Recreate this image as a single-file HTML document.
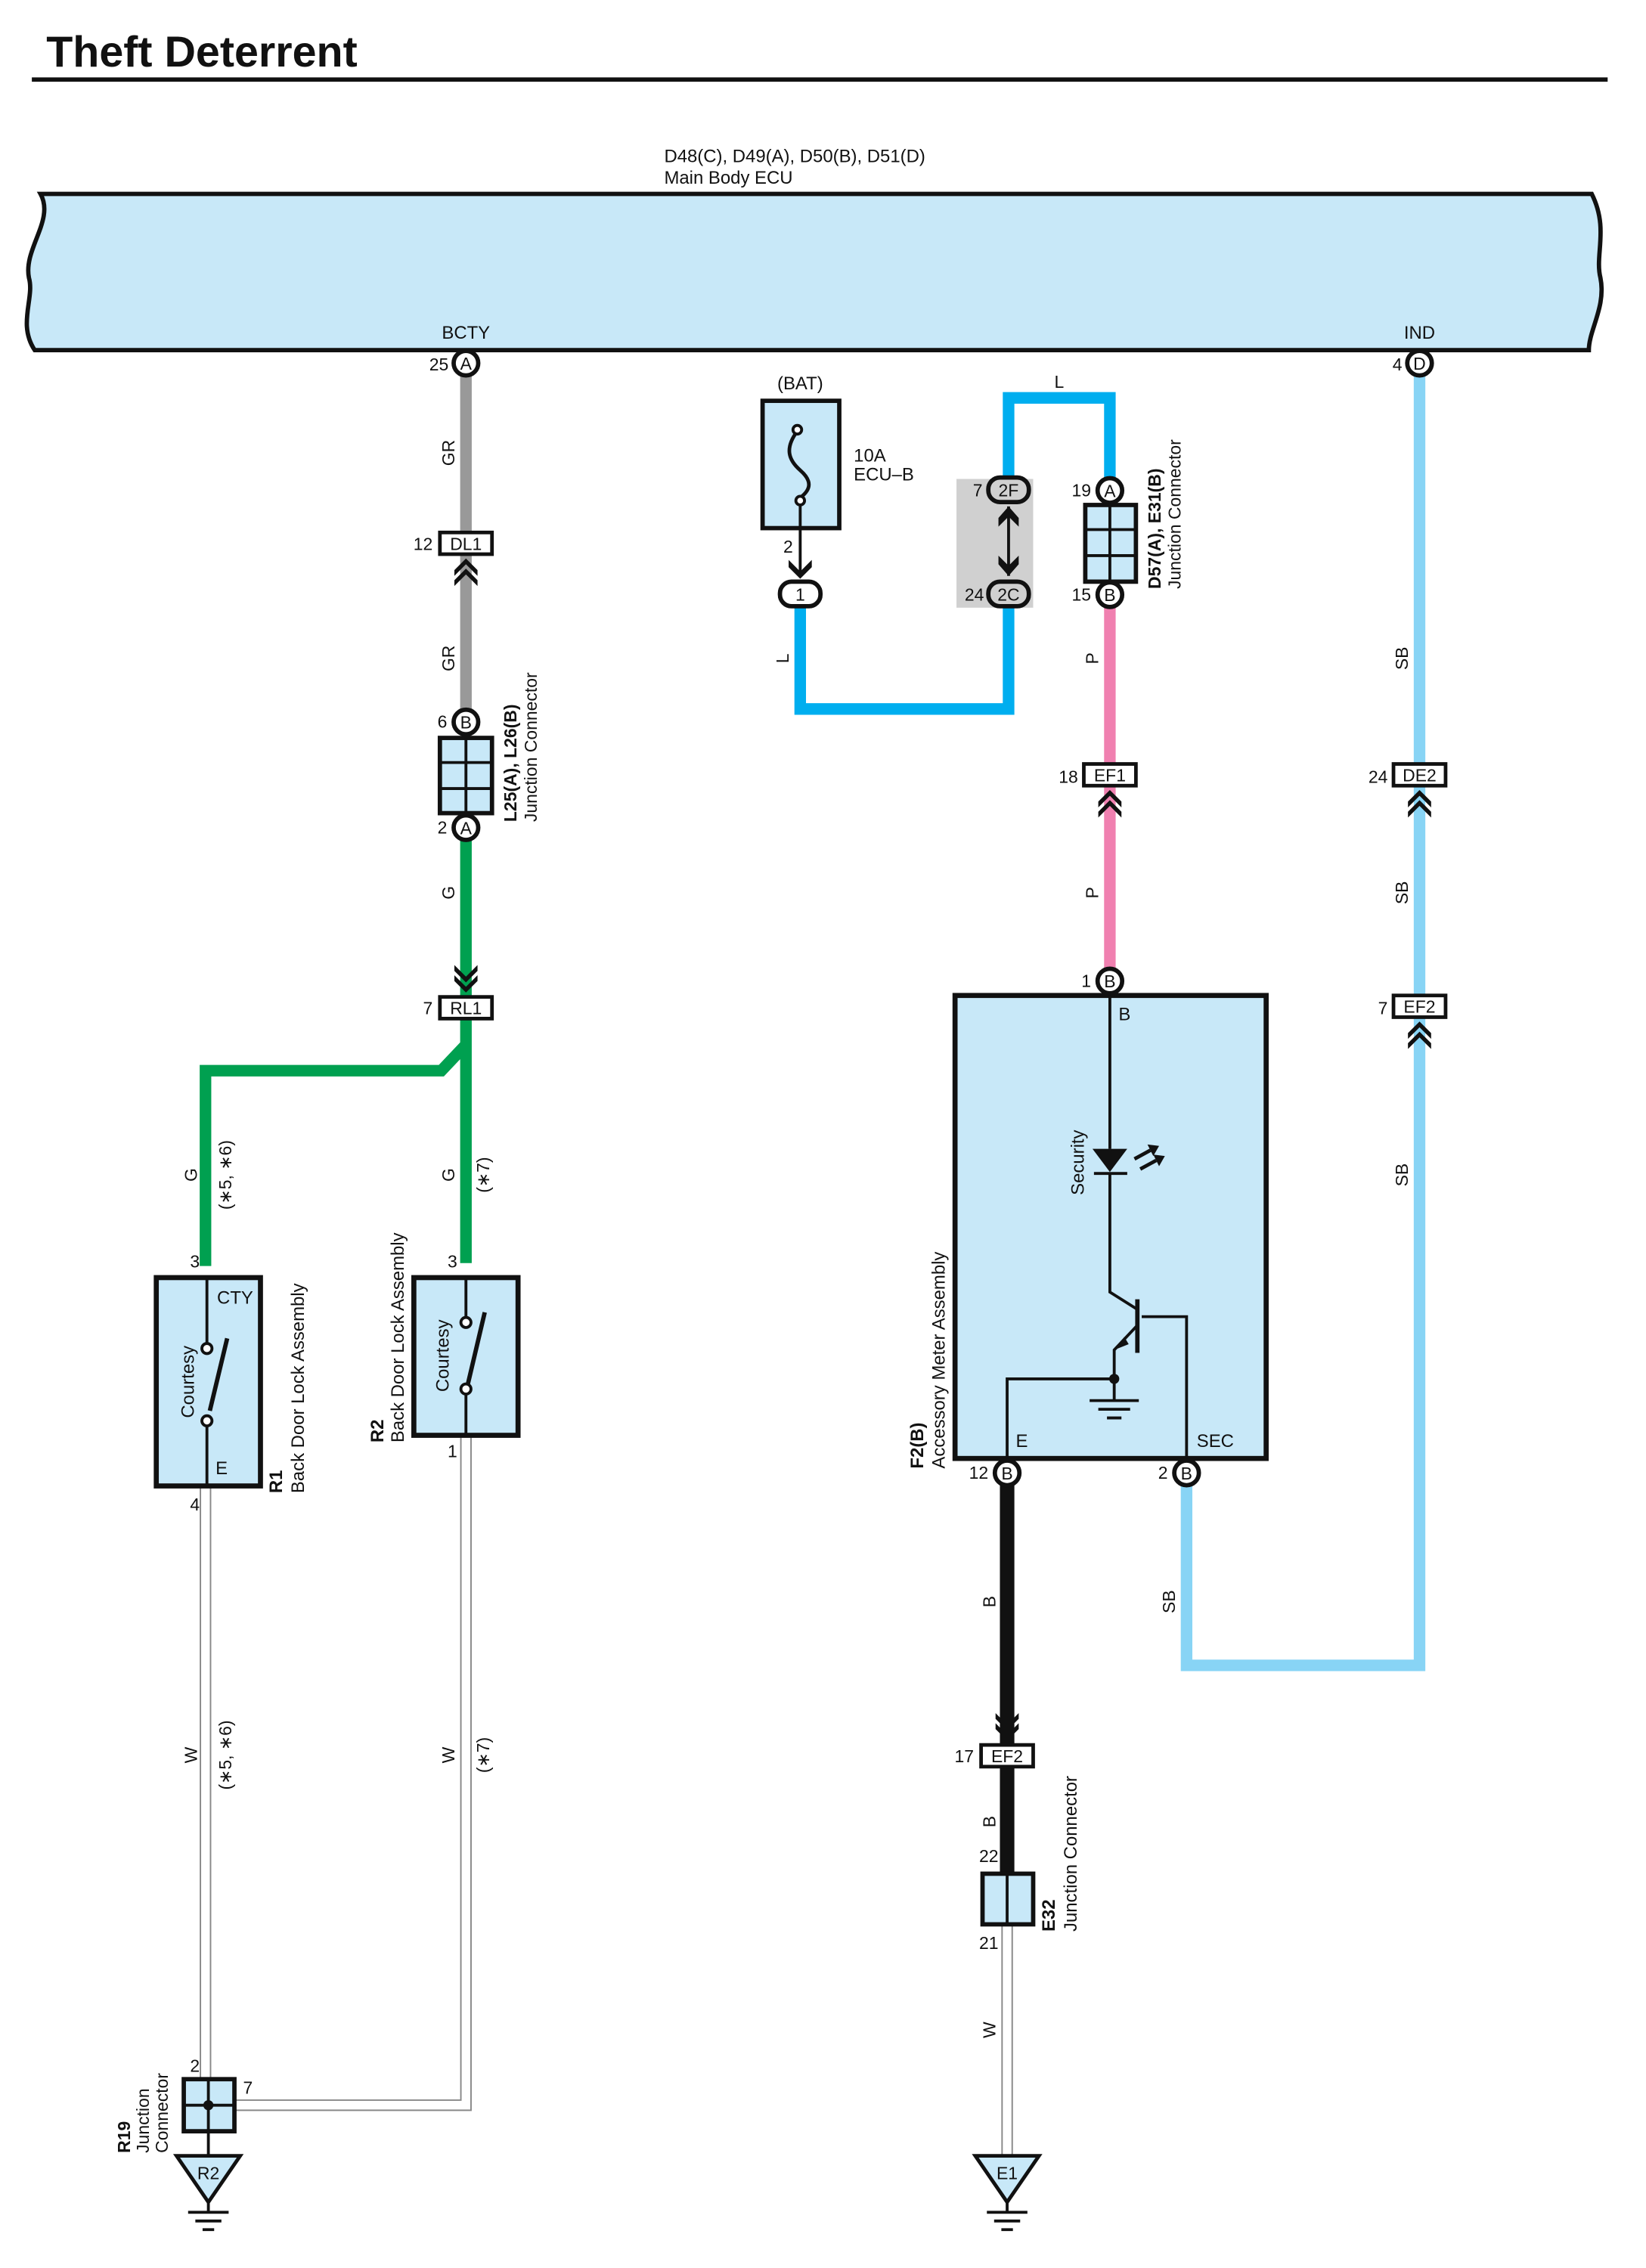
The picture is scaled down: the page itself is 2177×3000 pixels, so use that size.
<!DOCTYPE html>
<html><head><meta charset="utf-8"><style>
html,body{margin:0;padding:0;background:#fff}
svg{display:block}
text{font-family:"Liberation Sans",Arial,sans-serif;fill:#111}
</style></head><body>
<svg width="2177" height="3000" viewBox="0 0 1137.5 1567.5" xmlns="http://www.w3.org/2000/svg">
<defs>
<g id="chevUp"><path d="M-8,8 L0,0 L8,8 L8,12 L0,4 L-8,12 Z M-8,15 L0,7 L8,15 L8,19 L0,11 L-8,19 Z" fill="#111"/></g>
<g id="chevDn"><path d="M-8,-8 L0,0 L8,-8 L8,-12 L0,-4 L-8,-12 Z M-8,-15 L0,-7 L8,-15 L8,-19 L0,-11 L-8,-19 Z" fill="#111"/></g>
</defs>
<rect width="1137.5" height="1567.5" fill="#fff"/>
<text x="32" y="46" font-size="30" font-weight="bold">Theft Deterrent</text>
<line x1="22" y1="55" x2="1111" y2="55" stroke="#111" stroke-width="3"/>
<text x="459" y="112" font-size="12.5">D48(C), D49(A), D50(B), D51(D)</text>
<text x="459" y="127" font-size="12.5">Main Body ECU</text>
<path d="M28,134 H1100 C1112,158 1102,176 1106,192 C1110,212 1098,228 1098,242 H24 C12,224 24,206 20,192 C16,172 38,152 28,134 Z" fill="#c8e8f8" stroke="#111" stroke-width="3"/>
<text x="322" y="234" font-size="12.5" text-anchor="middle">BCTY</text>
<text x="981" y="234" font-size="12.5" text-anchor="middle">IND</text>

<rect x="661" y="331" width="53" height="89" fill="#d0d0d0"/>

<g fill="none" stroke-linejoin="miter">
<line x1="322" y1="258" x2="322" y2="368" stroke="#999" stroke-width="8"/>
<line x1="322" y1="383" x2="322" y2="492" stroke="#999" stroke-width="8"/>
<line x1="322" y1="580" x2="322" y2="690" stroke="#00a050" stroke-width="8"/>
<path d="M322,704 V873 M322,722 L305,740 H142 V875" stroke="#00a050" stroke-width="8"/>
<path d="M553,418 V490 H697 V418" stroke="#00aeef" stroke-width="8"/>
<path d="M697,330 V275 H767 V332" stroke="#00aeef" stroke-width="8"/>
<line x1="767" y1="418" x2="767" y2="528" stroke="#f080b0" stroke-width="8"/>
<line x1="767" y1="543" x2="767" y2="671" stroke="#f080b0" stroke-width="8"/>
<line x1="981" y1="258" x2="981" y2="528" stroke="#88d4f5" stroke-width="8"/>
<line x1="981" y1="543" x2="981" y2="688" stroke="#88d4f5" stroke-width="8"/>
<path d="M981,703 V1151 H820 V1026" stroke="#88d4f5" stroke-width="8"/>
<line x1="696" y1="1026" x2="696" y2="1206" stroke="#111" stroke-width="10"/>
<line x1="696" y1="1221" x2="696" y2="1296" stroke="#111" stroke-width="10"/>
<path d="M142,1027 V1440" stroke="#888" stroke-width="8"/><path d="M142,1027 V1440" stroke="#fff" stroke-width="6"/>
<path d="M322,992 V1455 H162" stroke="#888" stroke-width="8"/><path d="M322,992 V1455 H162" stroke="#fff" stroke-width="6"/>
<path d="M696,1330 V1490" stroke="#888" stroke-width="8"/><path d="M696,1330 V1490" stroke="#fff" stroke-width="6"/>
</g>

<g font-size="12" text-anchor="middle">
<text transform="translate(314,313) rotate(-90)">GR</text>
<text transform="translate(314,455) rotate(-90)">GR</text>
<text transform="translate(314,617) rotate(-90)">G</text>
<text transform="translate(136,812) rotate(-90)">G</text>
<text transform="translate(160,812) rotate(-90)">(∗5, ∗6)</text>
<text transform="translate(314,812) rotate(-90)">G</text>
<text transform="translate(338,812) rotate(-90)">(∗7)</text>
<text transform="translate(136,1213) rotate(-90)">W</text>
<text transform="translate(160,1213) rotate(-90)">(∗5, ∗6)</text>
<text transform="translate(314,1213) rotate(-90)">W</text>
<text transform="translate(338,1213) rotate(-90)">(∗7)</text>
<text transform="translate(545,455) rotate(-90)">L</text>
<text x="732" y="268">L</text>
<text transform="translate(759,455) rotate(-90)">P</text>
<text transform="translate(759,617) rotate(-90)">P</text>
<text transform="translate(973,455) rotate(-90)">SB</text>
<text transform="translate(973,617) rotate(-90)">SB</text>
<text transform="translate(973,812) rotate(-90)">SB</text>
<text transform="translate(812,1107) rotate(-90)">SB</text>
<text transform="translate(688,1107) rotate(-90)">B</text>
<text transform="translate(688,1259) rotate(-90)">B</text>
<text transform="translate(688,1403) rotate(-90)">W</text>
</g>

<g font-size="12" text-anchor="middle">
<g stroke="#111" stroke-width="3" fill="#fff">
<circle cx="322" cy="251" r="8.5"/><circle cx="981" cy="251" r="8.5"/>
<circle cx="322" cy="499" r="8.5"/><circle cx="322" cy="572" r="8.5"/>
<circle cx="767" cy="339" r="8.5"/><circle cx="767" cy="411" r="8.5"/>
<circle cx="767" cy="678" r="8.5"/>
<circle cx="696" cy="1018" r="8.5"/><circle cx="820" cy="1018" r="8.5"/>
</g>
<text x="322" y="255.5">A</text><text x="981" y="255.5">D</text>
<text x="322" y="503.5">B</text><text x="322" y="576.5">A</text>
<text x="767" y="343.5">A</text><text x="767" y="415.5">B</text>
<text x="767" y="682.5">B</text>
<text x="696" y="1022.5">B</text><text x="820" y="1022.5">B</text>
<g text-anchor="end">
<text x="310" y="256">25</text><text x="969" y="256">4</text>
<text x="309" y="503">6</text><text x="309" y="576">2</text>
<text x="754" y="343">19</text><text x="754" y="415">15</text>
<text x="754" y="682">1</text>
<text x="683" y="1022">12</text><text x="807" y="1022">2</text>
<text x="299" y="380">12</text><text x="299" y="701">7</text>
<text x="745" y="541">18</text><text x="959" y="541">24</text>
<text x="959" y="701">7</text><text x="673" y="1218">17</text>
<text x="679" y="343">7</text><text x="680" y="415">24</text>
<text x="548" y="382">2</text>
<text x="138" y="876">3</text><text x="316" y="876">3</text>
<text x="138" y="1044">4</text><text x="316" y="1007">1</text>
<text x="138" y="1432">2</text>
<text x="690" y="1287">22</text><text x="690" y="1347">21</text>
</g>
<text x="168" y="1447" text-anchor="start">7</text>
</g>

<g stroke="#111" stroke-width="2.5" fill="#fff">
<rect x="304" y="368" width="36" height="15"/>
<rect x="304" y="689" width="36" height="15"/>
<rect x="749" y="528" width="36" height="15"/>
<rect x="963" y="528" width="36" height="15"/>
<rect x="963" y="688" width="36" height="15"/>
<rect x="678" y="1206" width="36" height="15"/>
</g>
<g font-size="12" text-anchor="middle">
<text x="322" y="380">DL1</text><text x="322" y="701">RL1</text>
<text x="767" y="540">EF1</text><text x="981" y="540">DE2</text>
<text x="981" y="700">EF2</text><text x="696" y="1218">EF2</text>
</g>
<use href="#chevUp" x="322" y="386"/>
<use href="#chevDn" x="322" y="686"/>
<use href="#chevUp" x="767" y="546"/>
<use href="#chevUp" x="981" y="546"/>
<use href="#chevUp" x="981" y="706"/>
<use href="#chevDn" x="696" y="1203"/>

<rect x="304" y="510" width="36" height="52" fill="#c8e8f8" stroke="#111" stroke-width="3"/>
<path d="M322,510 V562 M304,527 H340 M304,545 H340" stroke="#111" stroke-width="2"/>
<g font-size="12">
<text transform="translate(357,568) rotate(-90)" font-weight="bold">L25(A), L26(B)</text>
<text transform="translate(371,568) rotate(-90)">Junction Connector</text>
</g>

<text x="553" y="269" font-size="12.5" text-anchor="middle">(BAT)</text>
<rect x="527" y="277" width="53" height="88" fill="#c8e8f8" stroke="#111" stroke-width="3"/>
<path d="M551,298 C542,310 545,318 553,325 C561,332 561,338 553,344" fill="none" stroke="#111" stroke-width="2.5"/>
<circle cx="551" cy="297" r="3" fill="#fff" stroke="#111" stroke-width="2"/>
<circle cx="553" cy="346" r="3" fill="#fff" stroke="#111" stroke-width="2"/>
<line x1="553" y1="349" x2="553" y2="396" stroke="#111" stroke-width="2"/>
<path d="M545,387 L553,395 L561,387 L561,392 L553,400 L545,392 Z" fill="#111"/>
<text x="590" y="319" font-size="12.5">10A</text>
<text x="590" y="332" font-size="12.5">ECU–B</text>
<rect x="539" y="402" width="28" height="17" rx="8" fill="#fff" stroke="#111" stroke-width="3"/>
<text x="553" y="415" font-size="12" text-anchor="middle">1</text>

<rect x="683" y="330" width="28" height="17" rx="8" fill="#d0d0d0" stroke="#111" stroke-width="3"/>
<rect x="683" y="402" width="28" height="17" rx="8" fill="#d0d0d0" stroke="#111" stroke-width="3"/>
<text x="697" y="343" font-size="12" text-anchor="middle">2F</text>
<text x="697" y="415" font-size="12" text-anchor="middle">2C</text>
<line x1="697" y1="350" x2="697" y2="398" stroke="#111" stroke-width="2"/>
<path d="M690,358 L697,350 L704,358 V364 L697,357 L690,364 Z" fill="#111"/>
<path d="M690,390 L697,398 L704,390 V384 L697,391 L690,384 Z" fill="#111"/>

<rect x="750" y="349" width="35" height="53" fill="#c8e8f8" stroke="#111" stroke-width="3"/>
<path d="M767,349 V402 M750,366 H785 M750,384 H785" stroke="#111" stroke-width="2"/>
<g font-size="12">
<text transform="translate(802,407) rotate(-90)" font-weight="bold">D57(A), E31(B)</text>
<text transform="translate(816,407) rotate(-90)">Junction Connector</text>
</g>

<rect x="108" y="883" width="72" height="144" fill="#c8e8f8" stroke="#111" stroke-width="3.5"/>
<path d="M143,883 V929" stroke="#111" stroke-width="2"/>
<line x1="145" y1="975" x2="157" y2="925" stroke="#111" stroke-width="3"/>
<circle cx="143" cy="982" r="3.5" fill="#fff" stroke="#111" stroke-width="2"/>
<circle cx="143" cy="932" r="3.5" fill="#fff" stroke="#111" stroke-width="2"/>
<line x1="143" y1="986" x2="143" y2="1027" stroke="#111" stroke-width="2"/>
<text x="150" y="901" font-size="12.5">CTY</text>
<text x="149" y="1019" font-size="12.5">E</text>
<text transform="translate(134,980) rotate(-90)" font-size="12.5">Courtesy</text>
<text transform="translate(195,1032) rotate(-90)" font-size="12.5" font-weight="bold">R1</text>
<text transform="translate(210,1032) rotate(-90)" font-size="12.5">Back Door Lock Assembly</text>

<rect x="286" y="883" width="72" height="109" fill="#c8e8f8" stroke="#111" stroke-width="3.5"/>
<line x1="322" y1="883" x2="322" y2="910" stroke="#111" stroke-width="2"/>
<line x1="322" y1="962" x2="322" y2="992" stroke="#111" stroke-width="2"/>
<line x1="323" y1="958" x2="335" y2="907" stroke="#111" stroke-width="3"/>
<circle cx="322" cy="914" r="3.5" fill="#fff" stroke="#111" stroke-width="2"/>
<circle cx="322" cy="960" r="3.5" fill="#fff" stroke="#111" stroke-width="2"/>
<text transform="translate(310,962) rotate(-90)" font-size="12.5">Courtesy</text>
<text transform="translate(265,997) rotate(-90)" font-size="12.5" font-weight="bold">R2</text>
<text transform="translate(279,997) rotate(-90)" font-size="12.5">Back Door Lock Assembly</text>

<rect x="127" y="1437" width="35" height="36" fill="#c8e8f8" stroke="#111" stroke-width="3"/>
<path d="M144,1437 V1473 M127,1455 H162" stroke="#111" stroke-width="2"/>
<circle cx="144" cy="1455" r="3.5" fill="#111"/>
<line x1="144" y1="1473" x2="144" y2="1490" stroke="#111" stroke-width="2"/>
<g font-size="12">
<text transform="translate(90,1488) rotate(-90)" font-weight="bold">R19</text>
<text transform="translate(103,1488) rotate(-90)">Junction</text>
<text transform="translate(116,1488) rotate(-90)">Connector</text>
</g>
<g stroke="#111" fill="#c8e8f8" stroke-width="2.5">
<path d="M122,1490 H166 L144,1522 Z"/>
<path d="M674,1490 H718 L696,1522 Z"/>
</g>
<g stroke="#111" stroke-width="2">
<path d="M144,1522 V1529 M130,1529 H158 M135,1535 H153 M140,1541 H148"/>
<path d="M696,1522 V1529 M682,1529 H710 M687,1535 H705 M692,1541 H700"/>
</g>
<text x="144" y="1506" font-size="12" text-anchor="middle">R2</text>
<text x="696" y="1506" font-size="12" text-anchor="middle">E1</text>

<rect x="660" y="688" width="215" height="320" fill="#c8e8f8" stroke="#111" stroke-width="3.5"/>
<g stroke="#111" stroke-width="2" fill="none">
<path d="M767,688 V794 M767,811 V893 L786,905"/>
<path d="M756,811 H779"/>
<path d="M786,916 L770,933 V953 M770,953 H696 V1008 M770,953 V968"/>
<path d="M789,910 H820 V1008"/>
<path d="M753,968 H787 M759,974 H781 M765,980 H775"/>
<path d="M784,801 L795,795 M788,808 L799,802" stroke-width="2.5"/>
</g>
<line x1="786" y1="898" x2="786" y2="935" stroke="#111" stroke-width="3"/>
<path d="M755,794 H779 L767,810 Z" fill="#111"/>
<path d="M793,791 L801,792 L797,799 Z M797,798 L805,799 L801,806 Z" fill="#111"/>
<path d="M770,933 L777,924 L780,929 Z" fill="#111"/>
<circle cx="770" cy="953" r="3.5" fill="#111"/>
<text x="773" y="705" font-size="12.5">B</text>
<text x="702" y="1000" font-size="12.5">E</text>
<text x="827" y="1000" font-size="12.5">SEC</text>
<text transform="translate(749,826) rotate(-90)" font-size="12.5">Security</text>
<text transform="translate(638,1015) rotate(-90)" font-size="12.5" font-weight="bold">F2(B)</text>
<text transform="translate(653,1015) rotate(-90)" font-size="12.5">Accessory Meter Assembly</text>

<rect x="679" y="1295" width="35" height="35" fill="#c8e8f8" stroke="#111" stroke-width="3"/>
<line x1="696" y1="1295" x2="696" y2="1330" stroke="#111" stroke-width="2"/>
<text transform="translate(729,1335) rotate(-90)" font-size="12.5" font-weight="bold">E32</text>
<text transform="translate(744,1335) rotate(-90)" font-size="12.5">Junction Connector</text>
</svg>
</body></html>
